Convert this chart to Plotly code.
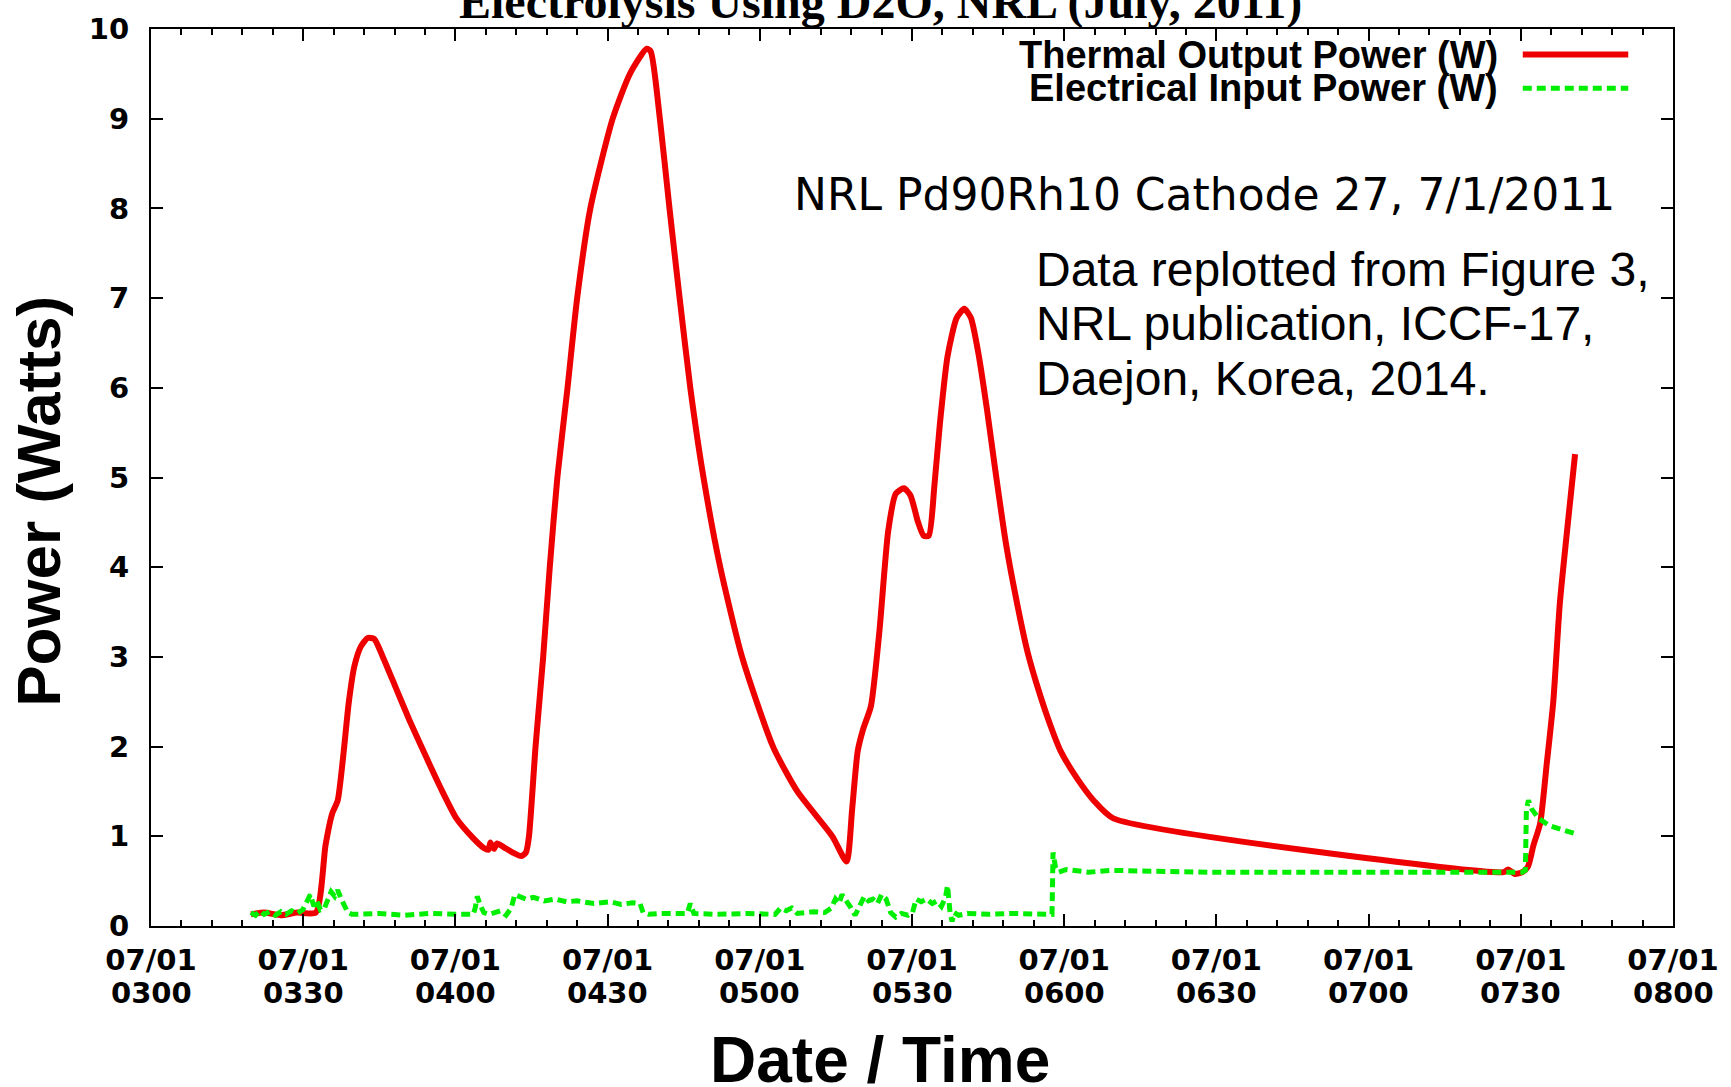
import pandas as pd
import plotly.graph_objects as go

# ---- data (minutes after 03:00 on 2011-07-01) ----
thermal_min = [19.7, 22.3, 25.6, 28.8, 32.5, 34.4, 35.7, 36.8, 37.9, 39.0, 40.1, 41.4, 42.7, 44.0,
               45.7, 48.3, 50.9, 53.7, 57.0, 60.2, 63.5, 65.6, 66.5, 66.9, 67.6, 68.2, 69.5, 71.3,
               73.0, 73.9, 74.5, 75.8, 77.3, 78.6, 80.1, 82.1, 84.0, 86.6, 91.0, 94.4, 97.7, 98.5,
               100.3, 102.2, 104.2, 106.3, 108.9, 112.2, 116.5, 122.6, 127.4, 134.3, 137.1,
               138.2, 139.3, 140.4, 141.9, 143.6, 145.3, 146.8, 148.4, 149.7, 151.2, 152.3, 153.3,
               154.4, 155.5, 157.0, 158.8, 160.3, 161.6, 163.1, 164.8, 166.3, 168.5, 170.7, 172.8,
               175.0, 177.2, 179.3, 182.6, 185.8, 189.7, 266.6, 267.5, 268.8, 270.3, 271.4, 272.5,
               273.8, 275.1, 276.4, 277.7, 279.2, 280.7]
thermal_w = [0.13, 0.15, 0.12, 0.15, 0.15, 0.90, 1.25, 1.40, 1.90, 2.50, 2.90, 3.12, 3.21, 3.20,
             3.00, 2.65, 2.30, 1.95, 1.55, 1.20, 0.98, 0.87, 0.85, 0.93, 0.86, 0.92, 0.88, 0.82,
             0.78, 0.82, 1.00, 2.00, 3.00, 4.00, 5.00, 6.00, 7.00, 8.00, 9.00, 9.50, 9.78, 9.75,
             9.00, 8.00, 7.00, 6.00, 5.00, 4.00, 3.00, 2.00, 1.50, 1.00, 0.72,
             1.30, 1.95, 2.20, 2.45, 3.30, 4.40, 4.82, 4.88, 4.80, 4.50, 4.35, 4.35,
             4.90, 5.60, 6.35, 6.78, 6.88, 6.78, 6.38, 5.75, 5.13, 4.27, 3.60, 3.05,
             2.62, 2.25, 1.95, 1.64, 1.40, 1.20, 0.60, 0.63, 0.58, 0.60, 0.66, 0.90,
             1.14, 1.80, 2.50, 3.60, 4.45, 5.26]

electrical_min = [19.7, 20.6, 21.4, 22.3, 23.4, 24.5, 25.6, 26.6, 27.7, 28.8, 29.9, 30.8, 31.4,
                  32.1, 32.7, 33.4, 34.2, 34.9, 35.5, 36.2, 36.8, 37.5, 38.1, 38.8, 39.6, 45.0,
                  50.0, 55.0, 60.0, 63.5, 63.9, 64.3, 65.0, 65.6, 66.7, 68.9, 70.0, 71.0, 71.7,
                  72.6, 73.9, 75.4, 77.5, 79.7, 81.9, 84.0, 87.3, 90.5, 92.7, 94.9, 96.4, 97.0,
                  98.1, 100.3, 105.7, 106.3, 107.0, 111.1, 117.6, 123.0, 124.1, 125.2, 126.3,
                  127.4, 130.6, 132.8, 134.1, 134.9, 135.6, 136.2, 137.1, 138.0, 138.8, 139.7,
                  140.6, 141.4, 142.3, 143.2, 144.0, 144.9, 145.8, 146.8, 147.9, 149.2, 150.1,
                  150.8, 151.8, 152.9, 154.0, 154.9, 155.8, 156.6, 157.0, 157.5, 157.9, 158.3,
                  159.2, 160.9, 165.3, 169.6, 173.9, 177.2, 177.6, 177.8, 178.3, 178.9, 180.4,
                  184.8, 189.1, 208.6, 230.2, 251.9, 270.3, 270.9, 271.1, 271.5, 272.2, 273.5,
                  275.6, 277.8, 280.7]
electrical_w = [0.15, 0.12, 0.17, 0.13, 0.16, 0.12, 0.16, 0.13, 0.17, 0.14, 0.18, 0.30, 0.35,
                0.22, 0.28, 0.18, 0.20, 0.30, 0.38, 0.33, 0.40, 0.30, 0.22, 0.15, 0.13, 0.14,
                0.12, 0.14, 0.13, 0.13, 0.20, 0.33, 0.22, 0.15, 0.13, 0.17, 0.12, 0.20, 0.35,
                0.33, 0.30, 0.32, 0.28, 0.30, 0.27, 0.28, 0.25, 0.27, 0.24, 0.26, 0.25, 0.15,
                0.13, 0.14, 0.14, 0.25, 0.14, 0.13, 0.14, 0.13, 0.20, 0.17, 0.20,
                0.14, 0.16, 0.15, 0.20, 0.30, 0.25, 0.35, 0.28, 0.20, 0.12, 0.22,
                0.33, 0.28, 0.30, 0.25, 0.35, 0.30, 0.15, 0.10, 0.14, 0.12, 0.15,
                0.30, 0.27, 0.30, 0.25, 0.28, 0.22, 0.32, 0.45, 0.15, 0.05, 0.15,
                0.12, 0.14, 0.13, 0.14, 0.13, 0.13, 0.13, 0.82, 0.65, 0.60, 0.63,
                0.60, 0.62, 0.60, 0.60, 0.61, 0.60, 0.62, 1.30, 1.40, 1.30, 1.20,
                1.12, 1.08, 1.03]

series_names = ["Thermal Output Power (W)", "Electrical Input Power (W)"]
y_ticks = list(range(0, 11))
x_tick_minutes = list(range(0, 301, 30))

base = pd.Timestamp("2011-07-01 03:00")
def to_time(mins):
    return [base + pd.Timedelta(minutes=m) for m in mins]

RED = "#ee0000"
GREEN = "#00ee00"

fig = go.Figure()
fig.add_trace(go.Scatter(x=to_time(thermal_min), y=thermal_w, mode="lines",
                         line=dict(color=RED, width=6, shape="spline", smoothing=0.6),
                         name=series_names[0], showlegend=False))
fig.add_trace(go.Scatter(x=to_time(electrical_min), y=electrical_w, mode="lines",
                         line=dict(color=GREEN, width=5, dash="9px,5px"),
                         name=series_names[1], showlegend=False))

tickfont = dict(family="DejaVu Sans, sans-serif", size=29, color="black", weight="bold")
x_ticks = to_time(x_tick_minutes)

fig.update_xaxes(type="date", range=[base, base + pd.Timedelta(hours=5)],
                 tickvals=x_ticks, tickformat="%m/%d",
                 ticks="inside", ticklen=12, tickwidth=2, tickcolor="black",
                 minor=dict(dtick=6 * 60 * 1000, tick0=base, ticks="inside", ticklen=6,
                            tickwidth=2, tickcolor="black"),
                 showline=True, linewidth=2, linecolor="black", mirror="allticks",
                 showgrid=False, zeroline=False, tickfont=tickfont, ticklabelstandoff=7)
fig.update_yaxes(range=[0, 10], tickvals=y_ticks,
                 ticks="inside", ticklen=12, tickwidth=2, tickcolor="black",
                 showline=True, linewidth=2, linecolor="black", mirror="allticks",
                 showgrid=False, zeroline=False, tickfont=tickfont, ticklabelstandoff=14)

ann = []
# second line of the x tick labels (HHMM)
for t in x_ticks:
    ann.append(dict(text=t.strftime("%H%M"), xref="x", yref="paper", x=t, y=-0.0745,
                    xanchor="center", yanchor="middle", showarrow=False, font=tickfont))
ann.append(dict(text="Electrolysis Using D2O, NRL (July, 2011)", xref="paper", yref="paper",
                x=0.479, y=1.030, xanchor="center", yanchor="middle", showarrow=False,
                font=dict(family="Liberation Serif, Times New Roman, serif", size=48, color="black", weight="bold")))
ann.append(dict(text="Power (Watts)", xref="paper", yref="paper", x=-0.0735, y=0.473,
                xanchor="center", yanchor="middle", textangle=-90, showarrow=False,
                font=dict(family="Liberation Sans, Arial, sans-serif", size=62, color="black", weight="bold")))
ann.append(dict(text="Date / Time", xref="paper", yref="paper", x=0.479, y=-0.149,
                xanchor="center", yanchor="middle", showarrow=False,
                font=dict(family="Liberation Sans, Arial, sans-serif", size=64, color="black", weight="bold")))
legfont = dict(family="Liberation Sans, Arial, sans-serif", size=38, color="black", weight="bold")
ann.append(dict(text=series_names[0], xref="paper", yref="paper", x=0.8866, y=0.9705,
                xanchor="right", yanchor="middle", showarrow=False, font=legfont))
ann.append(dict(text=series_names[1], xref="paper", yref="paper", x=0.8866, y=0.934,
                xanchor="right", yanchor="middle", showarrow=False, font=legfont))
ann.append(dict(text="NRL Pd90Rh10 Cathode 27, 7/1/2011", xref="paper", yref="paper", x=0.4212, y=0.8150,
                xanchor="left", yanchor="middle", showarrow=False,
                font=dict(family="DejaVu Sans, sans-serif", size=44, color="black")))
for txt, yy in [("Data replotted from Figure 3,", 0.7314), ("NRL publication, ICCF-17,", 0.6715),
                ("Daejon, Korea, 2014.", 0.6105)]:
    ann.append(dict(text=txt, xref="paper", yref="paper", x=0.5802, y=yy, xanchor="left",
                    yanchor="middle", showarrow=False,
                    font=dict(family="Liberation Sans, Arial, sans-serif", size=48, color="black")))

shapes = [
    dict(type="line", xref="paper", yref="paper", x0=0.9013, x1=0.9706, y0=0.9716, y1=0.9716,
         line=dict(color=RED, width=6)),
    dict(type="line", xref="paper", yref="paper", x0=0.9013, x1=0.9706, y0=0.934, y1=0.934,
         line=dict(color=GREEN, width=5, dash="9px,5px")),
]

fig.update_layout(width=1731, height=1087, margin=dict(l=151, r=51, t=22, b=161),
                  paper_bgcolor="white", plot_bgcolor="white", annotations=ann, shapes=shapes,
                  showlegend=False)

fig.write_html("out.html", config={"displayModeBar": False},
               post_script="document.body.style.margin='0px';document.body.style.overflow='hidden';")
